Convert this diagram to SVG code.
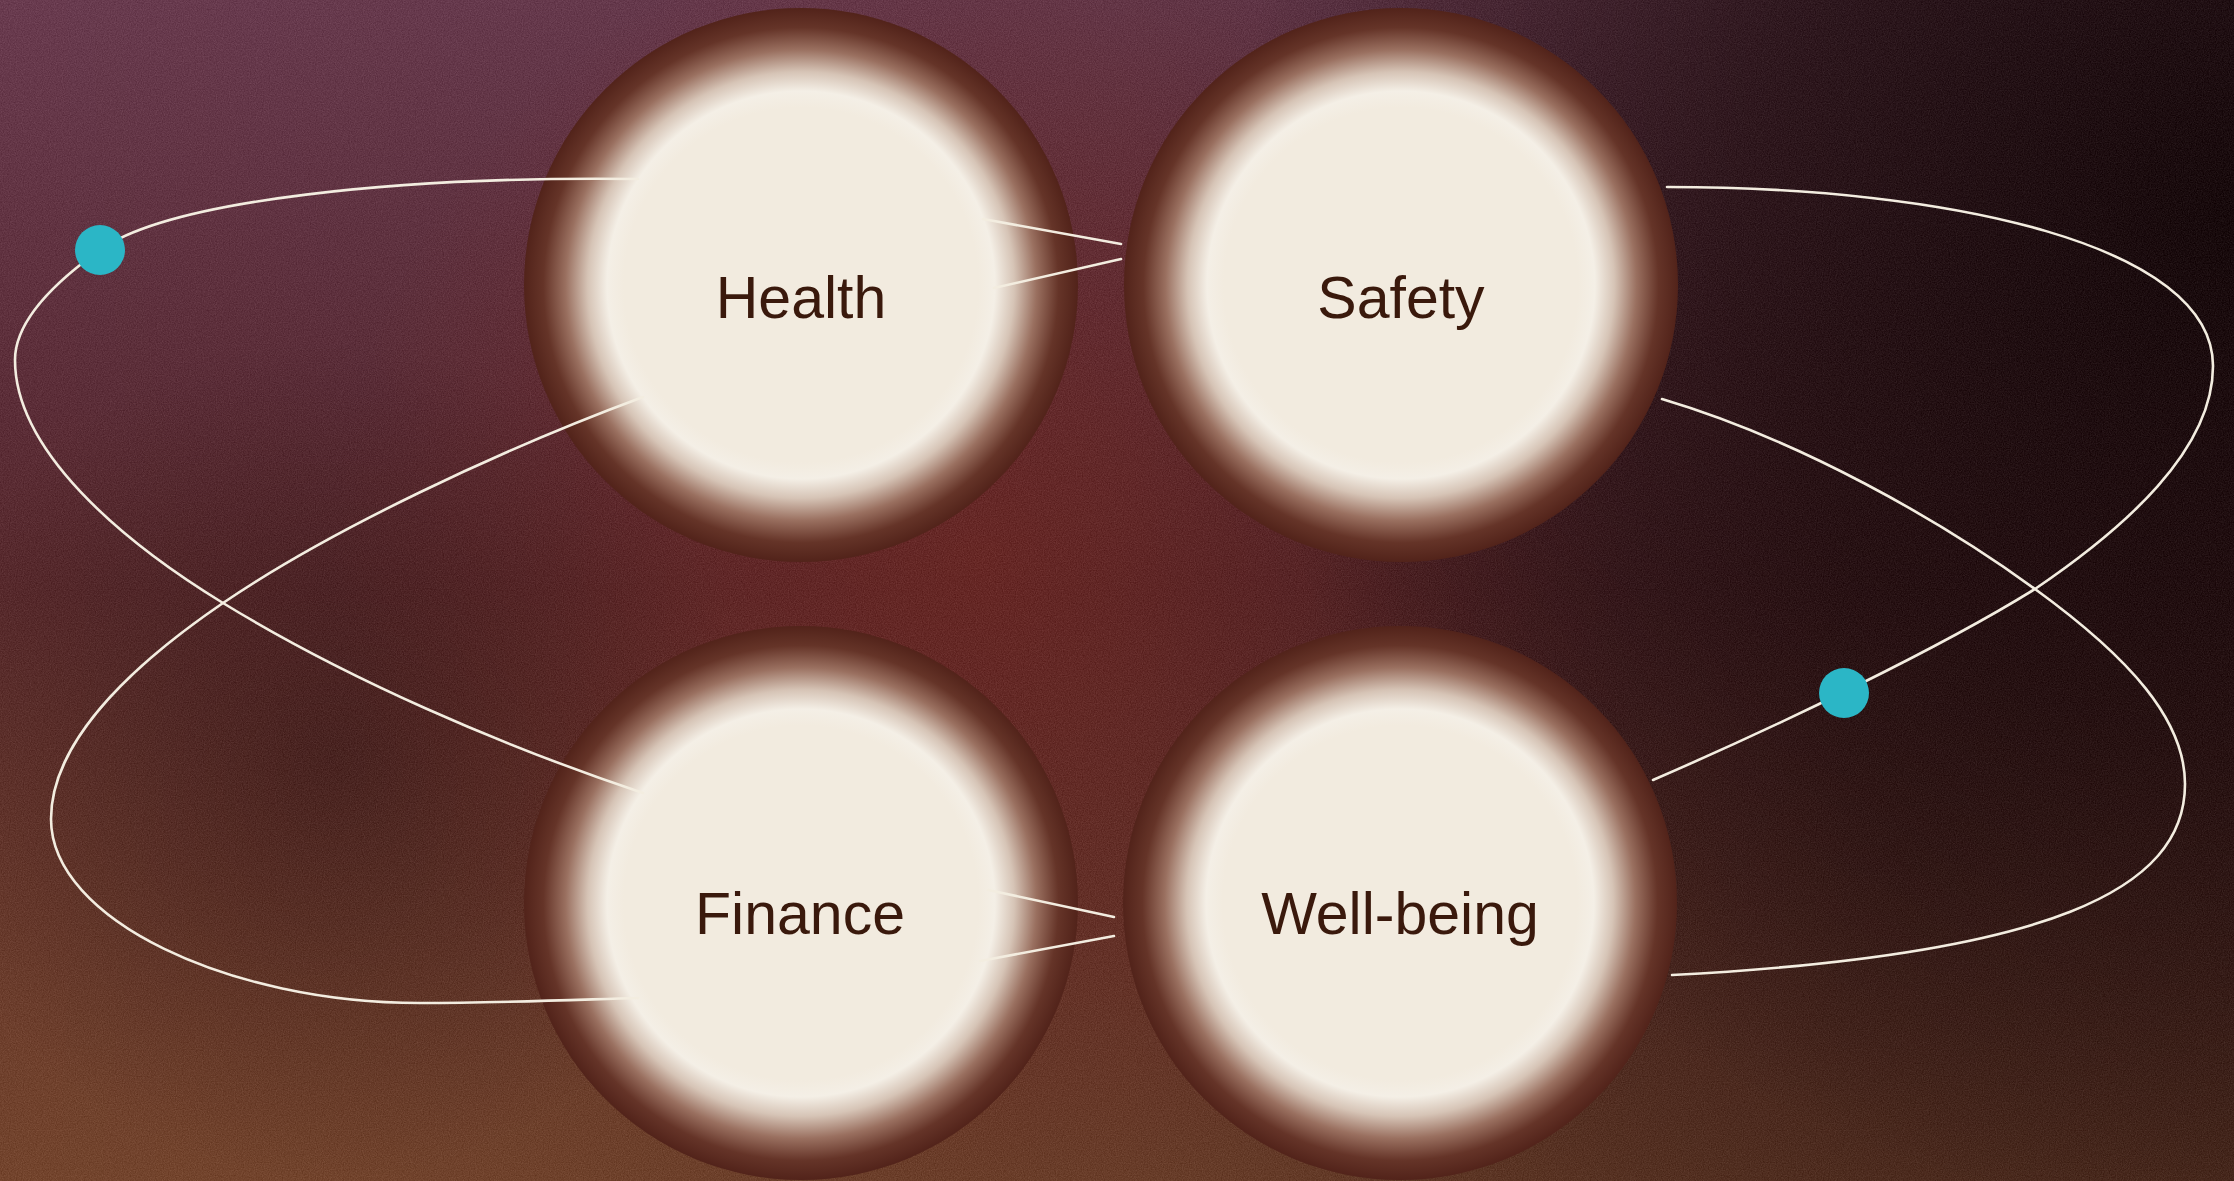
<svg xmlns="http://www.w3.org/2000/svg" width="2234" height="1181" viewBox="0 0 2234 1181">
<defs>
<linearGradient id="bgV" x1="0" y1="0" x2="0" y2="1">
<stop offset="0" stop-color="#693b4f"/>
<stop offset="0.5" stop-color="#55272d"/>
<stop offset="1" stop-color="#70422c"/>
</linearGradient>
<linearGradient id="darkH" x1="0" y1="0" x2="1" y2="0">
<stop offset="0" stop-color="#150909" stop-opacity="0"/>
<stop offset="0.5" stop-color="#150909" stop-opacity="0.08"/>
<stop offset="1" stop-color="#150909" stop-opacity="0.4"/>
</linearGradient>
<radialGradient id="darkTR" cx="2234" cy="220" r="1000" gradientUnits="userSpaceOnUse">
<stop offset="0" stop-color="#120708" stop-opacity="0.9"/>
<stop offset="0.5" stop-color="#140809" stop-opacity="0.55"/>
<stop offset="1" stop-color="#140809" stop-opacity="0"/>
</radialGradient>
<radialGradient id="darkBR" cx="1900" cy="850" r="650" gradientUnits="userSpaceOnUse">
<stop offset="0" stop-color="#1e0c0c" stop-opacity="0.3"/>
<stop offset="1" stop-color="#1e0c0c" stop-opacity="0"/>
</radialGradient>
<radialGradient id="redC" cx="980" cy="560" r="650" gradientUnits="userSpaceOnUse">
<stop offset="0" stop-color="#7c2b22" stop-opacity="0.6"/>
<stop offset="1" stop-color="#7c2b22" stop-opacity="0"/>
</radialGradient>
<radialGradient id="darkL" cx="330" cy="760" r="420" gradientUnits="userSpaceOnUse">
<stop offset="0" stop-color="#2a0f12" stop-opacity="0.45"/>
<stop offset="1" stop-color="#2a0f12" stop-opacity="0"/>
</radialGradient>
<radialGradient id="warmBL" cx="250" cy="1181" r="800" gradientUnits="userSpaceOnUse">
<stop offset="0" stop-color="#78482e" stop-opacity="0.5"/>
<stop offset="1" stop-color="#78482e" stop-opacity="0"/>
</radialGradient>
<radialGradient id="glow" cx="0.5" cy="0.5" r="0.5">
<stop offset="0" stop-color="#f2ebdf"/>
<stop offset="0.64" stop-color="#f2ebdf"/>
<stop offset="0.70" stop-color="#f4efe6"/>
<stop offset="0.77" stop-color="#d6c4b6"/>
<stop offset="0.85" stop-color="#9a7060"/>
<stop offset="0.93" stop-color="#653428"/>
<stop offset="1" stop-color="#52231a"/>
</radialGradient>
<filter id="grain" x="0" y="0" width="100%" height="100%" color-interpolation-filters="sRGB">
<feTurbulence type="fractalNoise" baseFrequency="0.85" numOctaves="2" seed="3" result="n"/>
<feColorMatrix in="n" type="matrix" values="1 0 0 0 0  1 0 0 0 0  1 0 0 0 0  0 0 0 0 1" result="g"/>
<feComposite in="SourceGraphic" in2="g" operator="arithmetic" k1="0" k2="1" k3="0.14" k4="-0.07"/>
</filter>
<style>
.node-label{font-family:"Liberation Sans","DejaVu Sans",sans-serif;font-size:59px;fill:#3a190c;text-anchor:middle}
.conn{fill:none;stroke:#f3ede0;stroke-width:2.6;stroke-linecap:round}
.dot{fill:#2bb6c6}
</style>
</defs>

<g id="background" filter="url(#grain)">
<rect width="2234" height="1181" fill="url(#bgV)"/>
<rect width="2234" height="1181" fill="url(#warmBL)"/>
<rect width="2234" height="1181" fill="url(#redC)"/>
<rect width="2234" height="1181" fill="url(#darkL)"/>
<rect width="2234" height="1181" fill="url(#darkH)"/>
<rect width="2234" height="1181" fill="url(#darkBR)"/>
<rect width="2234" height="1181" fill="url(#darkTR)"/>
</g>

<g id="node-health">
<circle cx="801" cy="285" r="277" fill="url(#glow)"/>
<text class="node-label" x="801" y="318">Health</text>
</g>
<g id="node-safety">
<circle cx="1401" cy="285" r="277" fill="url(#glow)"/>
<text class="node-label" x="1401" y="318">Safety</text>
</g>
<g id="node-finance">
<circle cx="801" cy="903" r="277" fill="url(#glow)"/>
<text class="node-label" x="800" y="934">Finance</text>
</g>
<g id="node-wellbeing">
<circle cx="1400" cy="903" r="277" fill="url(#glow)"/>
<text class="node-label" x="1400" y="934">Well-being</text>
</g>

<g id="connectors">
<path class="conn" d="M 638 179 C 400 176 170 200 100 250 C 55 282 15 320 15 360 C 15 450 120 540 223 603 C 347 679 500 745 643 793"/>
<path class="conn" d="M 643 397 C 500 450 330 530 223 603 C 116 676 51 750 51 819 C 51 920 230 1003 420 1003 C 500 1003 570 1000 638 998"/>
<path class="conn" d="M 1667 187 C 1950 187 2213 245 2213 366 C 2213 450 2125 528 2035 589 C 1940 648 1780 725 1653 780"/>
<path class="conn" d="M 1662 399 C 1800 440 1940 520 2035 589 C 2130 658 2185 720 2185 784 C 2185 890 2050 955 1672 975"/>
<path class="conn" d="M 983 219 L 1121 244"/>
<path class="conn" d="M 994 288 L 1121 259"/>
<path class="conn" d="M 988 890 L 1114 917"/>
<path class="conn" d="M 980 961 L 1114 936"/>
<circle class="dot" cx="100" cy="250" r="25"/>
<circle class="dot" cx="1844" cy="693" r="25"/>
</g>
</svg>
